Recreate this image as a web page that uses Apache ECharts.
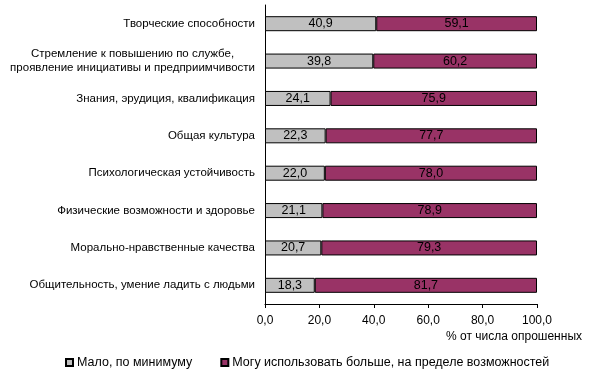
<!DOCTYPE html>
<html>
<head>
<meta charset="utf-8">
<script src="https://cdn.jsdelivr.net/npm/echarts@6/dist/echarts.min.js"></script>
<style>
  html, body { margin: 0; padding: 0; background: #fff; }
  #chart { width: 590px; height: 375px; }
</style>
</head>
<body>
<div id="chart"></div>
<script>
// categories, top to bottom
const categories = [
  'Творческие способности',
  'Стремление к повышению по службе,\nпроявление инициативы и предприимчивости',
  'Знания, эрудиция, квалификация',
  'Общая культура',
  'Психологическая устойчивость',
  'Физические возможности и здоровье',
  'Морально-нравственные качества',
  'Общительность, умение ладить с людьми',
];
const minimal = [40.9, 39.8, 24.1, 22.3, 22.0, 21.1, 20.7, 18.3];
const more = [59.1, 60.2, 75.9, 77.7, 78.0, 78.9, 79.3, 81.7];
const seriesNames = ['Мало, по минимуму', 'Могу использовать больше, на пределе возможностей'];

const fmt = (v) => v.toFixed(1).replace('.', ',');
const font = 'Liberation Sans, Arial, sans-serif';

const chart = echarts.init(document.getElementById('chart'));

const barLabel = {
  show: true,
  position: 'inside',
  color: '#000',
  fontFamily: font,
  fontSize: 12.5,
  formatter: (p) => fmt(p.value),
};

chart.setOption({
  animation: false,
  textStyle: { fontFamily: font },
  grid: { left: 265, right: 53, top: 5, bottom: 71 },
  xAxis: {
    type: 'value',
    min: 0,
    max: 100,
    interval: 20,
    name: '% от числа опрошенных',
    nameLocation: 'end',
    nameGap: 45,
    nameTextStyle: {
      color: '#000', fontSize: 12, align: 'right', verticalAlign: 'top', padding: [27, 0, 0, 0],
    },
    axisLine: { show: true, lineStyle: { color: '#000' } },
    axisTick: { show: true, length: 4, lineStyle: { color: '#000' } },
    splitLine: { show: false },
    axisLabel: { color: '#000', fontSize: 12, margin: 11, formatter: fmt },
  },
  yAxis: {
    type: 'category',
    inverse: true,
    data: categories,
    axisLine: { lineStyle: { color: '#000' } },
    axisTick: { length: 4, lineStyle: { color: '#000' } },
    axisLabel: {
      color: '#000',
      fontSize: 11.5,
      margin: 10,
      lineHeight: 14,
      formatter: (v) => v.split('\n').map((s) => '{c|' + s + '}').join('\n'),
      rich: { c: { align: 'center', fontSize: 11.5, color: '#000', lineHeight: 14 } },
    },
  },
  legend: {
    left: 60,
    top: 351,
    itemWidth: 7,
    itemHeight: 7,
    itemGap: 28,
    icon: 'rect',
    textStyle: { color: '#000', fontSize: 12.5, padding: [0, 0, 0, -1] },
    data: seriesNames,
  },
  series: [
    {
      name: seriesNames[0],
      type: 'bar',
      stack: 'total',
      barWidth: 15,
      data: minimal,
      itemStyle: { color: '#C0C0C0', borderColor: '#000', borderWidth: 1 },
      label: barLabel,
    },
    {
      name: seriesNames[1],
      type: 'bar',
      stack: 'total',
      barWidth: 15,
      data: more,
      itemStyle: { color: '#993366', borderColor: '#000', borderWidth: 1 },
      label: barLabel,
    },
  ],
});
</script>
</body>
</html>
